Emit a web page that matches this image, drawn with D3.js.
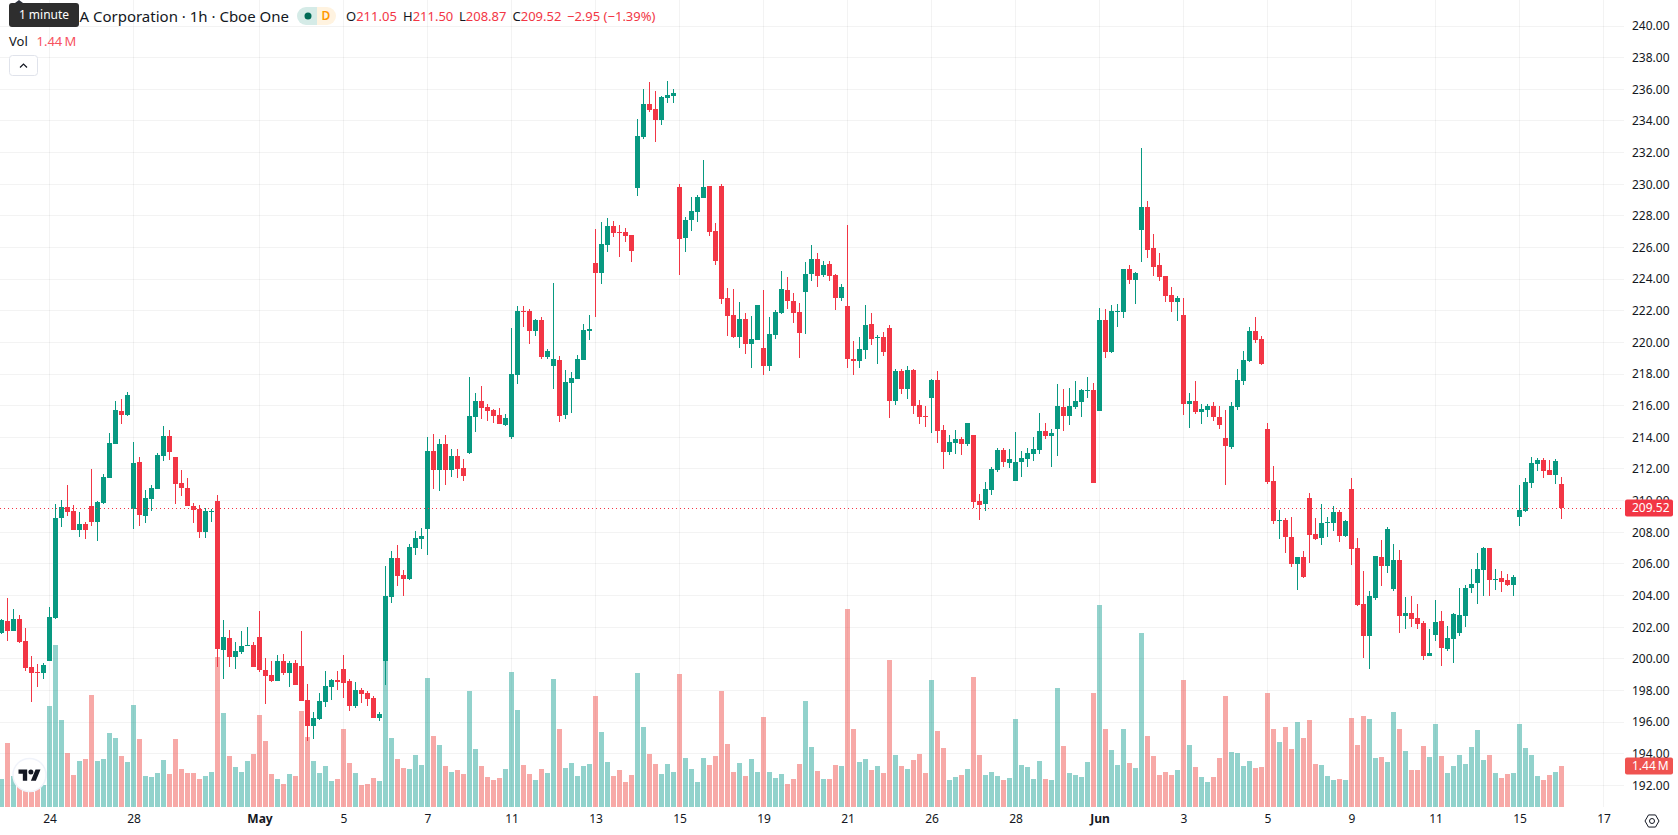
<!DOCTYPE html>
<html>
<head>
<meta charset="utf-8">
<title>Hourly candlestick chart</title>
<script src="https://d3js.org/d3.v7.min.js"></script>
<style>
  html, body { margin: 0; padding: 0; background: #fff; overflow: hidden; }
  svg { display: block; }
  text { font-family: "Noto Sans", sans-serif; fill: #131722; }
</style>
</head>
<body>
<div id="chart"></div>
<script>
// Hourly bars, oldest first. Prices in USD, volume in millions of shares.
const opens = [
  201.64,202.40,201.76,202.52,201.13,199.49,199.17,199.11,199.87,202.59,
  208.91,209.60,209.35,208.15,208.53,209.67,208.65,209.85,211.44,213.58,
  215.67,215.42,209.48,212.45,209.03,210.11,210.74,212.83,214.09,212.76,
  211.12,210.80,209.67,209.48,208.02,209.29,209.98,200.56,201.32,200.12,
  200.44,200.82,200.88,201.39,199.30,198.98,198.60,199.87,199.11,199.74,
  199.55,197.40,195.76,196.20,197.28,198.22,198.67,199.36,198.60,197.02,
  198.03,197.85,197.53,196.27,199.87,203.91,206.38,205.30,205.05,207.01,
  207.57,208.21,213.14,211.94,213.58,211.94,212.82,212.06,213.01,215.28,
  216.30,215.92,215.73,215.41,214.78,214.02,217.94,221.98,221.98,220.72,
  221.42,219.08,218.51,218.89,215.41,217.43,217.69,218.89,220.72,225.02,
  224.39,226.16,227.36,226.98,226.98,226.79,229.76,232.98,235.07,234.75,
  234.06,235.45,235.57,229.82,226.60,227.74,228.24,229.13,229.89,227.04,
  229.89,222.81,221.73,220.34,221.48,219.90,220.15,219.65,218.51,220.47,
  221.86,223.31,222.62,221.92,223.18,224.32,225.27,224.26,224.95,224.26,
  222.81,222.30,218.95,218.82,219.52,221.16,220.28,220.34,220.91,216.29,
  218.19,217.05,218.25,216.04,215.35,216.48,217.62,214.46,213.07,213.64,
  213.89,213.58,214.15,209.97,209.78,210.67,211.93,213.20,212.38,211.24,
  212.44,212.63,212.94,213.20,214.40,214.08,214.52,215.92,215.35,215.92,
  216.23,216.93,216.99,215.66,221.41,219.39,221.92,221.92,224.64,223.94,
  227.11,228.56,225.97,224.90,224.20,223.00,222.56,221.74,216.11,216.30,
  215.60,215.73,215.98,215.29,213.96,213.39,215.92,217.56,218.83,220.72,
  220.22,214.53,211.24,208.71,208.78,207.70,206.00,206.44,210.17,207.89,
  207.64,208.59,208.59,209.28,207.77,210.74,207.01,203.47,201.45,203.85,
  206.44,205.87,204.42,206.25,202.71,202.90,202.58,202.27,200.18,201.51,
  202.39,200.62,201.26,201.64,202.71,204.48,204.80,205.62,207.01,204.99,
  205.11,204.99,204.67,208.97,209.35,211.12,212.32,212.57,211.94,211.62,211.05
];
const highs = [
  202.52,203.83,203.15,202.78,201.95,200.18,199.68,199.74,203.28,209.79,
  210.04,210.99,209.73,209.29,208.65,212.00,209.98,211.69,214.28,216.30,
  216.43,216.87,213.71,212.76,210.68,210.99,213.02,214.72,214.47,212.76,
  211.94,211.44,209.85,209.73,209.54,209.48,210.36,202.46,201.83,201.07,
  201.76,202.02,201.07,203.03,200.06,199.87,200.25,200.31,199.87,199.93,
  201.76,198.41,196.64,197.85,199.24,198.73,199.24,200.25,198.73,198.54,
  198.16,197.97,197.66,196.64,205.87,206.82,207.20,205.62,207.26,208.08,
  208.27,214.02,214.21,213.90,214.15,213.26,213.26,212.63,217.81,216.80,
  217.24,216.11,215.79,215.85,215.47,220.91,222.30,222.30,222.11,221.48,
  221.61,219.58,223.75,219.14,218.25,218.13,219.20,221.16,221.73,227.17,
  227.61,227.86,227.67,227.42,227.23,226.79,234.12,236.02,236.46,235.89,
  235.57,236.52,236.02,230.01,227.93,229.19,229.32,231.53,229.89,227.55,
  230.01,223.44,223.37,222.55,221.86,221.67,222.36,223.31,221.61,222.05,
  224.51,224.13,223.12,222.49,225.08,226.16,225.65,225.14,225.14,224.32,
  223.69,227.42,220.09,220.34,222.36,221.86,220.47,220.66,221.10,218.32,
  218.32,218.51,218.32,216.36,215.98,217.69,218.19,214.78,214.15,214.46,
  214.02,214.90,214.15,210.42,211.17,212.12,213.32,213.32,213.26,214.34,
  213.13,213.32,214.02,215.54,214.90,214.52,217.37,217.05,217.12,217.56,
  217.05,217.81,217.43,222.17,222.11,222.36,222.43,224.64,224.89,224.45,
  232.29,228.94,226.86,225.65,224.20,223.51,222.94,222.81,216.81,217.56,
  216.11,216.11,216.24,215.98,215.73,216.24,218.32,219.46,220.98,221.61,
  220.41,214.91,212.19,209.40,208.90,208.97,206.44,206.82,210.49,208.91,
  209.79,208.97,209.66,209.41,208.78,211.43,207.64,205.55,204.29,206.50,
  207.51,208.34,207.26,206.88,203.91,203.98,203.47,202.39,201.89,203.72,
  203.03,202.08,202.90,204.48,204.67,205.68,206.69,207.07,207.01,205.68,
  205.55,205.37,205.30,211.00,211.43,212.76,212.70,212.70,212.57,212.63,211.50
];
const lows = [
  201.58,201.13,201.76,201.01,199.24,197.28,198.22,198.73,199.87,202.52,
  208.34,209.03,208.15,207.71,207.58,208.40,207.45,209.79,211.44,213.58,
  214.85,215.38,208.21,208.40,208.59,209.35,210.74,212.51,212.57,209.79,
  210.30,209.67,208.59,207.64,207.64,208.65,199.49,198.73,199.49,199.36,
  200.31,200.82,199.49,199.17,197.15,198.54,198.60,198.98,198.22,198.35,
  197.34,194.83,194.96,196.14,196.96,197.40,198.04,197.53,196.71,196.90,
  197.21,197.02,196.27,196.08,198.35,203.53,204.61,203.98,204.99,206.57,
  206.94,206.56,210.73,210.61,210.99,211.49,211.43,211.24,212.95,214.34,
  215.16,215.03,214.90,214.84,214.72,213.89,217.37,220.97,219.90,220.40,
  218.95,218.95,217.05,214.97,215.16,215.54,217.69,218.89,220.15,221.61,
  223.69,225.71,226.66,225.40,226.35,225.08,229.25,232.86,234.56,232.67,
  233.74,235.13,235.13,224.26,225.71,227.04,227.61,229.13,226.73,224.89,
  222.43,220.40,220.28,219.65,219.27,218.38,220.15,217.94,218.19,220.21,
  221.79,222.11,221.22,219.01,220.53,223.88,223.50,224.13,223.88,222.05,
  222.62,218.38,217.94,218.38,218.95,219.83,218.63,219.14,215.22,216.04,
  216.74,216.42,215.47,214.84,214.65,214.27,213.64,212.00,212.88,212.94,
  212.88,213.45,209.53,208.77,209.34,210.35,211.81,212.12,212.06,211.24,
  211.49,212.12,212.50,212.94,213.89,212.12,212.82,214.40,214.78,215.79,
  215.28,216.48,211.11,215.66,219.01,219.33,220.97,221.54,223.69,222.43,
  225.09,225.34,224.20,223.89,222.56,221.93,221.36,215.41,214.59,215.48,
  214.85,215.29,215.04,214.53,210.99,213.27,215.73,217.31,218.77,219.97,
  218.58,211.05,208.52,207.57,206.69,205.81,204.35,205.11,206.06,207.51,
  207.20,207.70,208.08,207.39,207.70,205.93,203.34,200.06,199.36,203.72,
  204.61,205.43,204.29,201.64,201.89,202.02,201.89,199.93,200.18,201.13,
  199.55,200.50,199.74,201.45,202.02,204.16,203.47,203.98,203.98,204.35,
  204.23,204.61,203.98,208.40,209.28,210.80,211.88,211.43,211.62,211.05,208.87
];
const closes = [
  202.46,201.76,202.52,201.07,199.43,199.11,199.11,199.61,202.65,208.91,
  209.60,209.29,208.15,208.53,208.15,208.65,209.92,211.50,213.65,215.73,
  215.42,216.68,212.38,209.10,210.17,210.80,212.89,214.09,213.08,211.06,
  210.80,209.67,209.41,208.02,209.35,209.35,200.63,201.39,200.12,200.50,
  200.82,200.88,199.49,199.30,198.92,198.60,199.87,199.11,199.74,198.35,
  197.34,195.76,196.27,197.34,198.29,198.67,198.54,198.48,197.02,198.03,
  197.78,197.47,196.27,196.52,203.98,206.38,205.24,205.05,207.07,207.64,
  207.76,213.14,211.94,213.58,211.94,212.82,212.00,211.55,215.35,216.30,
  215.85,215.66,215.35,214.84,215.22,218.00,221.98,221.92,220.72,221.42,
  219.08,219.46,218.95,215.35,217.50,217.75,218.95,220.78,220.85,224.39,
  226.22,227.36,226.91,226.91,226.73,225.78,233.05,235.07,234.69,234.06,
  235.51,235.64,235.76,226.53,227.74,228.31,229.19,229.82,226.98,225.14,
  222.74,221.67,220.34,221.48,219.90,220.21,222.36,218.51,220.53,221.92,
  223.37,222.62,221.86,220.59,224.32,225.27,224.20,224.89,224.20,222.81,
  223.50,218.95,218.82,219.58,221.10,220.21,220.34,219.39,216.29,218.19,
  217.05,218.25,215.98,215.28,215.28,217.62,214.40,213.07,213.70,213.89,
  213.58,214.90,209.91,209.72,210.73,211.99,213.20,212.44,212.63,212.44,
  212.69,213.01,213.26,214.40,214.08,214.27,215.98,215.35,215.98,216.29,
  216.99,216.99,211.11,221.41,219.39,221.98,221.98,224.64,223.94,224.39,
  228.56,225.84,224.77,224.14,222.94,222.56,222.81,216.11,216.30,215.60,
  215.79,215.98,215.29,214.78,213.46,215.98,217.63,218.89,220.72,220.16,
  218.64,211.18,208.71,208.77,207.70,206.00,206.44,205.18,207.83,207.58,
  208.59,208.65,209.28,207.77,208.72,206.95,203.41,201.45,203.98,206.50,
  205.87,208.21,206.25,202.71,202.90,202.52,202.21,200.18,200.37,202.33,
  200.69,201.32,202.84,202.77,204.48,204.73,205.68,207.01,204.99,205.05,
  204.86,204.67,205.18,209.41,211.18,212.38,212.57,211.88,211.62,212.51,209.52
];
const volumes = [
  0.98,2.25,1.09,0.95,0.71,0.53,0.66,0.77,3.55,5.69,
  3.06,1.90,1.12,1.62,1.69,3.93,1.62,1.69,2.60,2.42,
  1.79,1.58,3.58,2.39,1.09,1.05,1.19,1.65,1.16,2.39,
  1.33,1.19,1.19,0.98,1.09,1.23,5.27,3.30,1.79,1.41,
  1.23,1.62,1.86,3.23,2.32,1.16,0.98,0.81,1.16,1.09,
  3.37,2.46,1.62,1.19,1.44,0.91,0.98,2.74,1.55,1.19,
  0.77,0.81,1.02,0.91,5.16,2.42,1.69,1.37,1.33,1.83,
  1.48,4.53,2.49,2.18,1.44,1.23,1.30,1.16,4.07,2.04,
  1.44,1.05,0.95,1.02,1.33,4.74,3.41,1.48,1.16,0.95,
  1.33,1.19,4.50,2.74,1.37,1.55,1.09,1.44,1.51,3.90,
  2.63,1.58,1.09,1.30,0.88,1.12,4.71,2.81,1.86,1.51,
  1.16,1.51,1.23,4.67,1.72,1.33,0.88,1.72,1.48,1.79,
  4.07,2.21,1.23,1.55,1.09,1.69,1.23,3.16,1.23,1.02,
  1.16,0.81,0.98,1.51,3.72,2.11,1.26,0.98,0.98,1.48,
  1.44,6.96,2.74,1.58,1.69,1.30,1.44,1.19,5.16,1.83,
  1.44,1.33,1.65,1.86,1.19,4.46,2.67,2.07,0.95,1.05,
  1.12,1.33,4.57,1.83,1.12,1.23,1.09,0.95,1.02,3.09,
  1.48,1.41,0.98,1.62,0.98,0.95,4.18,2.14,1.19,1.12,
  1.05,1.58,4.00,7.11,2.74,2.00,1.48,2.74,1.55,1.37,
  6.11,2.49,1.79,1.12,1.23,1.12,1.30,4.46,2.18,1.41,
  1.05,0.88,1.05,1.72,3.90,1.93,1.90,1.44,1.62,1.37,
  1.41,4.00,2.74,2.28,2.81,2.04,2.99,2.42,3.06,1.51,
  1.48,1.09,0.95,0.98,0.95,3.13,2.18,3.20,3.09,1.72,
  1.76,1.58,3.34,2.74,1.97,1.30,1.30,2.14,1.76,2.92,
  1.79,1.19,1.44,1.83,1.51,2.11,2.70,1.65,1.83,1.19,
  1.02,1.16,1.19,2.92,2.07,1.83,1.09,0.95,1.12,1.23,1.44
];

// Time axis: bar position of each labelled session, and its label.
const timeTickBars = [8, 22, 43, 57, 71, 85, 99, 113, 127, 141, 155, 169, 183, 197, 211, 225, 239, 253, 267];
const timeTickLabels = ["24", "28", "May", "5", "7", "11", "13", "15", "19", "21", "26", "28", "Jun", "3", "5", "9", "11", "15", "17"];
const monthLabels = ["May", "Jun"];
const priceTicks = [192, 194, 196, 198, 200, 202, 204, 206, 208, 210, 212, 214, 216, 218, 220, 222, 224, 226, 228, 230, 232, 234, 236, 238, 240];

const titleText = "A Corporation · 1h · Cboe One";
const legendOhlc = [["O", "211.05"], ["H", "211.50"], ["L", "208.87"], ["C", "209.52"]];
const legendChange = "−2.95 (−1.39%)";
const legendVolume = "1.44\u2009M";

const WIDTH = 1678, HEIGHT = 835;
const PANE_RIGHT = 1624, PANE_BOTTOM = 807;
const UP = "#089981", DOWN = "#f23645";
const UP_VOL = "rgba(38,166,154,0.5)", DOWN_VOL = "rgba(239,83,80,0.5)";
const GRID = "rgba(46,46,46,0.06)";
const BAR_W = 5;
const FONT_SIZE = 12;

const svg = d3.select("#chart").append("svg").attr("width", WIDTH).attr("height", HEIGHT);

const bars = d3.range(closes.length);
const isUp = i => closes[i] >= opens[i];

const x = d3.scaleLinear().domain([0, 260]).range([1.5, 1561.5]);
const y = d3.scaleLinear().domain([192, 240]).range([785.4, 26.0]);
const yVol = d3.scaleLinear().domain([0, 7]).range([PANE_BOTTOM, PANE_BOTTOM - 7 * 28.47]);

// Grid
const grid = svg.append("g").attr("class", "grid").attr("shape-rendering", "crispEdges");
grid.append("g")
  .attr("transform", `translate(0,${PANE_BOTTOM})`)
  .call(d3.axisBottom(x).tickValues(timeTickBars).tickSize(-PANE_BOTTOM).tickFormat("").offset(0));
grid.append("g")
  .attr("transform", `translate(${PANE_RIGHT},0)`)
  .call(d3.axisLeft(y).tickValues(priceTicks).tickSize(PANE_RIGHT).tickFormat("").offset(0));
grid.selectAll(".domain").remove();
grid.selectAll("line").attr("stroke", GRID);

// Volume histogram
svg.append("g").attr("shape-rendering", "crispEdges")
  .selectAll("rect").data(bars).join("rect")
  .attr("x", i => x(i) - BAR_W / 2)
  .attr("width", BAR_W)
  .attr("y", i => Math.round(yVol(volumes[i])))
  .attr("height", i => PANE_BOTTOM - Math.round(yVol(volumes[i])))
  .attr("fill", i => isUp(i) ? UP_VOL : DOWN_VOL);

// Candles
const candles = svg.append("g").attr("shape-rendering", "crispEdges");
candles.selectAll("rect.wick").data(bars).join("rect")
  .attr("class", "wick")
  .attr("x", i => x(i) - 0.5)
  .attr("width", 1)
  .attr("y", i => Math.round(y(highs[i])))
  .attr("height", i => Math.max(1, Math.round(y(lows[i])) - Math.round(y(highs[i]))))
  .attr("fill", i => isUp(i) ? UP : DOWN);
candles.selectAll("rect.body").data(bars).join("rect")
  .attr("class", "body")
  .attr("x", i => x(i) - BAR_W / 2)
  .attr("width", BAR_W)
  .attr("y", i => Math.round(y(Math.max(opens[i], closes[i]))))
  .attr("height", i => Math.max(1, Math.round(y(Math.min(opens[i], closes[i]))) - Math.round(y(Math.max(opens[i], closes[i])))))
  .attr("fill", i => isUp(i) ? UP : DOWN);

const last = closes.length - 1;

// Last price line
svg.append("line")
  .attr("x1", 0).attr("x2", PANE_RIGHT)
  .attr("y1", Math.round(y(closes[last])) + 0.5).attr("y2", Math.round(y(closes[last])) + 0.5)
  .attr("stroke", DOWN).attr("stroke-width", 1).attr("stroke-dasharray", "1 3");

// Axis labels
const priceAxis = svg.append("g")
  .attr("transform", `translate(${PANE_RIGHT},0)`)
  .call(d3.axisRight(y).tickValues(priceTicks).tickSize(0).tickPadding(8).tickFormat(d3.format(".2f")));
priceAxis.select(".domain").remove();
priceAxis.selectAll("text").attr("font-size", FONT_SIZE).attr("font-family", null);

const timeAxis = svg.append("g")
  .attr("transform", `translate(0,${PANE_BOTTOM})`)
  .call(d3.axisBottom(x).tickValues(timeTickBars).tickSize(0).tickPadding(7)
    .tickFormat((d, i) => timeTickLabels[i]));
timeAxis.select(".domain").remove();
timeAxis.selectAll("text").attr("font-size", FONT_SIZE).attr("font-family", null)
  .attr("font-weight", function () { return monthLabels.includes(this.textContent) ? 700 : 400; });

// Value tags on the price scale
function valueTag(cy, label, fill) {
  const g = svg.append("g").attr("transform", `translate(${PANE_RIGHT + 1},${Math.round(cy)})`);
  g.append("rect").attr("x", 0).attr("y", -8.5).attr("width", 48).attr("height", 17).attr("rx", 2).attr("fill", fill);
  g.append("text").attr("x", 7).attr("y", 0).attr("dy", "0.35em")
    .attr("font-size", FONT_SIZE).style("fill", "#fff").text(label);
}
valueTag(y(closes[last]), closes[last].toFixed(2), DOWN);
valueTag(yVol(volumes[last]), legendVolume, "#ef5350");

// Settings button at the corner of the scales
const gear = svg.append("g").attr("transform", "translate(1652,821)")
  .attr("fill", "none").attr("stroke", "#131722").attr("stroke-width", 1);
gear.append("path").attr("d", d3.line()(d3.range(6).map(k => {
  const a = Math.PI / 3 * k;
  return [7 * Math.cos(a), 7 * Math.sin(a)];
})) + "Z");
gear.append("circle").attr("r", 2.5);

// Legend
const legend = svg.append("g");
const LEGEND_Y = 16.5;
legend.append("text").attr("x", 289).attr("y", LEGEND_Y).attr("dy", "0.35em").attr("text-anchor", "end")
  .attr("font-size", 15).text(titleText);

const pill = legend.append("g");
pill.append("path").attr("d", "M307,7H306a9,9 0 0 0 0,18H317V7Z").attr("fill", "#d5ebe7");
pill.append("path").attr("d", "M317,7H327a9,9 0 0 1 0,18H317Z").attr("fill", "#fff3e0");
pill.append("circle").attr("cx", 308).attr("cy", 16).attr("r", 3.5).attr("fill", "#006b56");
pill.append("text").attr("x", 326).attr("y", 16).attr("dy", "0.35em").attr("text-anchor", "middle")
  .attr("font-size", 12).attr("font-weight", 600).style("fill", "#ff9800").text("D");

const ohlcX = [346, 403, 459, 512.5];
legendOhlc.forEach(([key, value], k) => {
  const t = legend.append("text").attr("x", ohlcX[k]).attr("y", LEGEND_Y).attr("dy", "0.35em").attr("font-size", 13);
  t.append("tspan").text(key);
  t.append("tspan").style("fill", DOWN).text(value);
});
legend.append("text").attr("x", 567).attr("y", LEGEND_Y).attr("dy", "0.35em").attr("font-size", 13)
  .style("fill", DOWN).text(legendChange);

legend.append("text").attr("x", 9).attr("y", 41).attr("dy", "0.35em").attr("font-size", 13).text("Vol");
legend.append("text").attr("x", 36.5).attr("y", 41).attr("dy", "0.35em").attr("font-size", 13)
  .style("fill", "#f7525f").text(legendVolume);

// Collapse button
legend.append("rect").attr("x", 9.5).attr("y", 55.5).attr("width", 28).attr("height", 20).attr("rx", 3)
  .attr("fill", "#fff").attr("stroke", "#e0e3eb");
legend.append("path").attr("d", "M20 67.5L23.5 64L27 67.5").attr("fill", "none").attr("stroke", "#131722").attr("stroke-width", 1.2);

// Hover hint over the legend
const hint = svg.append("g");
hint.append("path").attr("d", "M15 3L19 0L23 3Z").attr("fill", "#2a2e39");
hint.append("rect").attr("x", 9).attr("y", 3).attr("width", 70).attr("height", 24).attr("rx", 3).attr("fill", "#2e2e2e");
hint.append("text").attr("x", 44).attr("y", 15).attr("dy", "0.35em").attr("text-anchor", "middle")
  .attr("font-size", 12).style("fill", "#fff").text("1 minute");

// Platform badge
const badge = svg.append("g").attr("transform", "translate(29.5,775)");
badge.append("circle").attr("r", 16.5).attr("fill", "#fff").attr("stroke", "#f0f3fa").attr("stroke-width", 1.5);
badge.append("path").attr("transform", "translate(-11,-8) scale(0.62)")
  .attr("d", "M14 22H7V11H0V4h14v18zM28 22h-8l7.5-18h8L28 22z").attr("fill", "#131722");
badge.append("circle").attr("cx", 1.4).attr("cy", -3).attr("r", 2.5).attr("fill", "#131722");
</script>
</body>
</html>
